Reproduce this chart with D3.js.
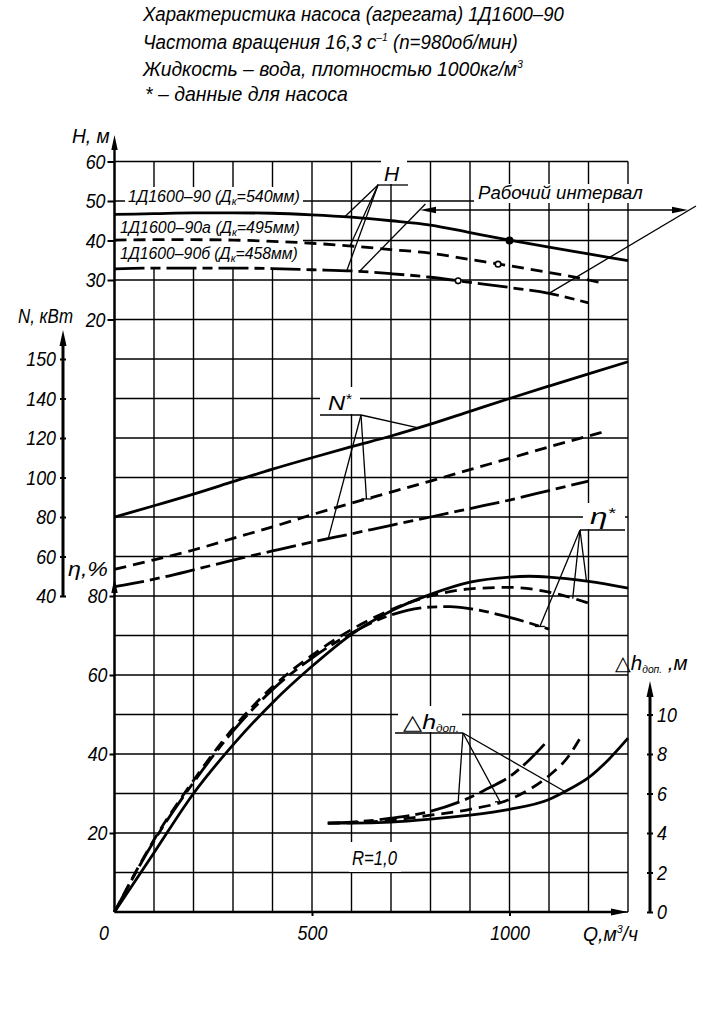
<!DOCTYPE html>
<html><head><meta charset="utf-8">
<script src="https://cdn.jsdelivr.net/npm/d3@7"></script>
<style>
body{margin:0;background:#fff;}
svg text{font-family:"Liberation Sans","DejaVu Sans","Noto Sans",sans-serif;font-style:italic;fill:#000;}
</style></head><body>
<svg id="c" width="702" height="1010"></svg>
<script>
// ---------- DATA ----------
const qTicks=[0,500,1000];
const hTicks=[20,30,40,50,60];
const nTicks=[40,60,80,100,120,140,160];
const nTickLabels=["40","60","80","100","120","140","150"];
const etaTicks=[20,40,60,80];
const npshTicks=[0,2,4,6,8,10];

const titleLines=["Характеристика насоса (агрегата) 1Д1600–90","Частота вращения 16,3 с","Жидкость – вода, плотностью 1000кг/м","* – данные для насоса"];
const curveNames=["1Д1600–90","1Д1600–90а","1Д1600–90б"];
const curveDiam=["540","495","458"];

// Head H, m  (Q m3/h, H)
const head540=[[0,46.6],[100,46.8],[200,47],[300,47],[400,46.9],[500,46.5],[600,45.9],[700,45.0],[800,43.9],[900,42.0],[1000,40.1],[1100,38.3],[1200,36.6],[1300,34.9]];
const head495=[[0,40.1],[100,40.2],[200,40.2],[300,40.1],[400,39.8],[500,39.3],[600,38.6],[700,37.7],[800,36.8],[900,35.2],[1000,33.6],[1100,31.9],[1200,30.0],[1237,29.2]];
const head458=[[0,32.8],[100,33],[200,33],[300,33],[400,32.9],[500,32.6],[600,32.3],[700,31.6],[800,30.7],[900,29.4],[1000,28.1],[1100,26.6],[1200,24.2]];
const dutyPoints=[[1000,40],[971,34],[870,29.8]];
const workInterval=[620,1100];

// Power N, kW
const power540=[[0,80],[100,85.7],[200,91.6],[300,97.9],[400,104.2],[500,110],[600,115.6],[700,121],[800,127],[900,133.5],[1000,140],[1100,146.3],[1200,152.5],[1300,158.6]];
const power495=[[0,53.5],[100,58.3],[200,63.3],[300,69.2],[400,75],[500,81.2],[600,87],[700,92.6],[800,98.2],[900,104],[1000,109.7],[1100,115.5],[1200,121],[1237,123]];
const power458=[[0,44.7],[100,48.5],[200,53.2],[300,58.2],[400,62.8],[500,67.3],[600,71.5],[700,75.8],[800,80],[900,84.3],[1000,88.6],[1100,93.4],[1200,98.2]];

// Efficiency, %
const eta540=[[0,0],[100,15],[200,30],[300,42.3],[400,53],[500,62.2],[600,70.3],[700,76.2],[800,80.4],[900,83.5],[1000,84.8],[1050,85],[1100,84.8],[1200,83.7],[1300,82]];
const eta495=[[0,0],[100,18.3],[200,33.3],[300,46.5],[400,57],[500,65],[600,71.5],[700,76.5],[800,80],[900,81.8],[1000,82.2],[1100,81],[1200,78.2]];
const eta458=[[0,0],[100,18],[200,32.8],[300,45.8],[400,56.3],[500,64.3],[600,70.6],[700,75.2],[800,77.2],[850,77.3],[900,76.8],[1000,74.6],[1100,71.6]];

// NPSH required, m
const npsh540=[[540,4.5],[600,4.5],[700,4.55],[800,4.7],[900,4.9],[1000,5.2],[1100,5.7],[1150,6.2],[1200,6.8],[1250,7.7],[1300,8.8]];
const npsh495=[[540,4.5],[600,4.52],[700,4.65],[800,4.9],[900,5.2],[1000,5.7],[1050,6.2],[1100,6.9],[1150,7.9],[1180,8.85]];
const npsh458=[[540,4.5],[600,4.55],[700,4.75],[800,5.1],[870,5.55],[900,5.8],[950,6.3],[1000,6.85],[1050,7.7],[1098,8.7]];

// ---------- SCALES ----------
const svg=d3.select("#c");
const X0=114.5,X1=628,Y0=912,STEP=39.5;
const x=d3.scaleLinear().domain([0,1300]).range([X0,X1]);
const yE=d3.scaleLinear().domain([0,80]).range([Y0,Y0-8*STEP]);
const yH=d3.scaleLinear().domain([20,60]).range([Y0-15*STEP,Y0-19*STEP]);
const yN=d3.scaleLinear().domain([40,160]).range([Y0-8*STEP,Y0-14*STEP]);
const yD=d3.scaleLinear().domain([0,10]).range([Y0,Y0-5*STEP]);

const styles=[{w:2.8,dash:null},{w:2.8,dash:"12,7"},{w:2.8,dash:"30,6,10,6"}];

function at(data,q){for(let i=1;i<data.length;i++){if(q<=data[i][0]){const [q0,v0]=data[i-1],[q1,v1]=data[i];return v0+(v1-v0)*(q-q0)/(q1-q0);}}return data[data.length-1][1];}
function cond(sel,k){sel.each(function(){const w=this.getComputedTextLength();d3.select(this).attr("textLength",w*k).attr("lengthAdjust","spacingAndGlyphs");});return sel;}
function arrow(g,tx,ty,dir,len=15,hw=3.2){
  let p;
  if(dir==="up")p=[[tx,ty],[tx-hw,ty+len],[tx+hw,ty+len]];
  else if(dir==="right")p=[[tx,ty],[tx-len,ty-hw],[tx-len,ty+hw]];
  else p=[[tx,ty],[tx+len,ty-hw],[tx+len,ty+hw]];
  g.append("path").attr("d","M"+p.join("L")+"Z").attr("fill","#000");
}

// ---------- GRID ----------
const grid=svg.append("g").attr("stroke","#000").attr("stroke-width",1.4);
const gridCols=d3.range(0,1301,100);
const gridRows=d3.range(0,191,10);
grid.selectAll(".v").data(gridCols).join("line").attr("x1",d=>x(d)).attr("x2",d=>x(d)).attr("y1",yE(190)).attr("y2",yE(0));
grid.selectAll(".h").data(gridRows).join("line").attr("x1",X0).attr("x2",X1).attr("y1",d=>yE(d)).attr("y2",d=>yE(d));

// white-outs behind labels
const wo=svg.append("g").attr("fill","#fff");
[[125,187,178,25],[117,212,186,56],[381,158,26,26],[474,184,172,19],[320,387,40,27],[583,503,42,26],[398,706,64,26],[349,842,52,30]]
 .forEach(r=>wo.append("rect").attr("x",r[0]).attr("y",r[1]).attr("width",r[2]).attr("height",r[3]));

// ---------- AXES ----------
const ax=svg.append("g");
ax.append("line").attr("x1",X0).attr("x2",X0).attr("y1",yE(0)).attr("y2",yH(60)-12).attr("stroke","#000").attr("stroke-width",2.4);
arrow(ax,X0,135,"up");
arrow(ax,X0,578,"up");
ax.append("line").attr("x1",X0).attr("x2",X1-10).attr("y1",Y0).attr("y2",Y0).attr("stroke","#000").attr("stroke-width",2.4);
arrow(ax,X1,Y0,"right",17,3.5);
const NX=63;
ax.append("line").attr("x1",NX).attr("x2",NX).attr("y1",yN(40)).attr("y2",340).attr("stroke","#000").attr("stroke-width",3);
arrow(ax,NX,330,"up",16,3.5);
const DX=650;
ax.append("line").attr("x1",DX).attr("x2",DX).attr("y1",yD(0)).attr("y2",690).attr("stroke","#000").attr("stroke-width",3);
arrow(ax,DX,681,"up",16,3.5);

const TF=21;
function styleAxis(g){g.select(".domain").remove();g.selectAll("line").attr("stroke","#000").attr("stroke-width",2);g.selectAll("text").attr("font-size",TF).attr("font-family",null);return g;}
const gH=svg.append("g").attr("transform",`translate(${X0},0)`).call(d3.axisLeft(yH).tickValues(hTicks).tickSize(7).tickPadding(2)).call(styleAxis);
const gN=svg.append("g").attr("transform",`translate(${NX},0)`).call(d3.axisLeft(yN).tickValues(nTicks).tickFormat((d,i)=>nTickLabels[i]).tickSize(3).tickPadding(4)).call(styleAxis);
gN.selectAll(".tick line").attr("x2",3).attr("x1",-3);
const gE=svg.append("g").attr("transform",`translate(${X0},0)`).call(d3.axisLeft(yE).tickValues(etaTicks).tickSize(5).tickPadding(2)).call(styleAxis);
const gD=svg.append("g").attr("transform",`translate(${DX},0)`).call(d3.axisRight(yD).tickValues(npshTicks).tickSize(3).tickPadding(4)).call(styleAxis);
gD.selectAll(".tick line").attr("x1",-3).attr("x2",3);
const gQ=svg.append("g").attr("transform",`translate(0,${Y0})`).call(d3.axisBottom(x).tickValues(qTicks).tickFormat(d3.format("d")).tickSize(4).tickPadding(9)).call(styleAxis);
gQ.selectAll(".tick text").filter(d=>d===0).attr("dx",-11);
gQ.selectAll(".tick line").filter(d=>d===0).remove();
[gH,gN,gE,gD,gQ].forEach(g=>cond(g.selectAll("text"),0.85));

// ---------- CURVES ----------
const cv=svg.append("g").attr("fill","none").attr("stroke","#000");
function draw(data,y,s){
  cv.append("path").datum(data).attr("d",d3.line().x(d=>x(d[0])).y(d=>y(d[1])).curve(d3.curveMonotoneX))
    .attr("stroke-width",s.w).attr("stroke-dasharray",s.dash);
}
[head540,head495,head458].forEach((d,i)=>draw(d,yH,styles[i]));
[power540,power495,power458].forEach((d,i)=>draw(d,yN,styles[i]));
[eta540,eta495,eta458].forEach((d,i)=>draw(d,yE,styles[i]));
[npsh540,npsh495,npsh458].forEach((d,i)=>draw(d,yD,styles[i]));

svg.selectAll(".duty").data(dutyPoints).join("circle")
  .attr("cx",d=>x(d[0])).attr("cy",d=>yH(d[1])).attr("r",(d,i)=>i===0?3.2:2.8)
  .attr("fill",(d,i)=>i===0?"#000":"#fff").attr("stroke","#000").attr("stroke-width",1.6);

// ---------- LEADERS ----------
const ld=svg.append("g").attr("stroke","#000").attr("stroke-width",1.3).attr("fill","none");
function leaders(apex,under,targets){
  ld.append("line").attr("x1",under[0]).attr("x2",under[1]).attr("y1",apex[1]).attr("y2",apex[1]);
  targets.forEach(t=>{
    const tx=x(t.q),ty=t.y(at(t.data,t.q));
    ld.append("line").attr("x1",apex[0]).attr("y1",apex[1]).attr("x2",tx).attr("y2",ty);
    if(t.bar)ld.append("line").attr("x1",tx-5).attr("x2",tx+5).attr("y1",ty).attr("y2",ty);
  });
}
leaders([378,185],[377,408],[{q:583,data:head540,y:yH},{q:596,data:head495,y:yH},{q:588,data:head458,y:yH}]);
leaders([361,415],[320,361],[{q:769,data:power540,y:yN},{q:638,data:power495,y:yN,bar:1},{q:541,data:power458,y:yN}]);
leaders([580,530],[580,625],[{q:1195,data:eta540,y:yE},{q:1160,data:eta495,y:yE},{q:1077,data:eta458,y:yE,bar:1}]);
leaders([463,733],[395,463],[{q:1140,data:npsh540,y:yD},{q:976,data:npsh495,y:yD,bar:1},{q:870,data:npsh458,y:yD}]);

const wi=svg.append("g").attr("stroke","#000").attr("stroke-width",1.3);
const wl=[x(workInterval[0]),yH(at(head458,workInterval[0]))],wr=[x(workInterval[1]),yH(at(head458,workInterval[1]))];
wi.append("line").attr("x1",wl[0]).attr("y1",wl[1]).attr("x2",wl[0]+66).attr("y2",204);
wi.append("line").attr("x1",wr[0]).attr("y1",wr[1]).attr("x2",wr[0]+147).attr("y2",206);
wi.append("line").attr("x1",425).attr("x2",680).attr("y1",210).attr("y2",210);
arrow(svg,420,210,"left",16,3.2);
arrow(svg,688,210,"right",16,3.2);

// ---------- TEXT ----------
// text is laid out naturally, then squeezed horizontally to the reference width
const T=svg.append("g");
function txt(xp,yp,parts,size,W){
  const g=T.append("g").attr("transform",`translate(${xp},${yp})`);
  const t=g.append("text").attr("x",0).attr("y",0).attr("font-size",size);
  parts.forEach(p=>{
    if(typeof p==="string")t.append("tspan").text(p);
    else t.append("tspan").text(p.t).attr("font-size",p.s||size*0.6).attr("dy",p.dy||0);
  });
  if(W){const w=t.node().getBBox().width;g.attr("transform",`translate(${xp},${yp}) scale(${W/w},1)`);}
  return t;
}
txt(143,21,[titleLines[0]],20,422);
txt(143,49,[titleLines[1],{t:"–1",dy:-8,s:11},{t:" (n=980об/мин)",dy:8,s:20}],20,375);
txt(143,76,[titleLines[2],{t:"3",dy:-8,s:11}],20,382);
txt(145,101,[titleLines[3]],20,203);

const cy=[202,233,259],cx=[128,120,120],cw=[172,180,178];
curveNames.forEach((n,i)=>txt(cx[i],cy[i],[n+" (Д",{t:"к",dy:3,s:11},{t:"="+curveDiam[i]+"мм)",dy:-3,s:17}],17,cw[i]));

txt(72,143,["H, м"],20,38);
txt(18,323,["N, кВт"],20,55);
txt(68,576,["η,%"],21,40);
txt(384,181,["H"],21,16);
txt(478,199,["Рабочий интервал"],19,165);
txt(328,410,["N",{t:"*",dy:-6,s:14}],21,24);
txt(590,524,["η",{t:"*",dy:-6,s:14}],22,26);
txt(403,729,["△h",{t:"доп.",dy:3,s:10}],21,56);
txt(615,670,["△h",{t:"доп.",dy:3,s:10},{t:" ,м",dy:-3,s:20}],20,73);
txt(352,865,["R=1,0"],20,45);
txt(583,941,["Q,м",{t:"3",dy:-8,s:11},{t:"/ч",dy:8,s:20}],20,55);
</script>
</body></html>
